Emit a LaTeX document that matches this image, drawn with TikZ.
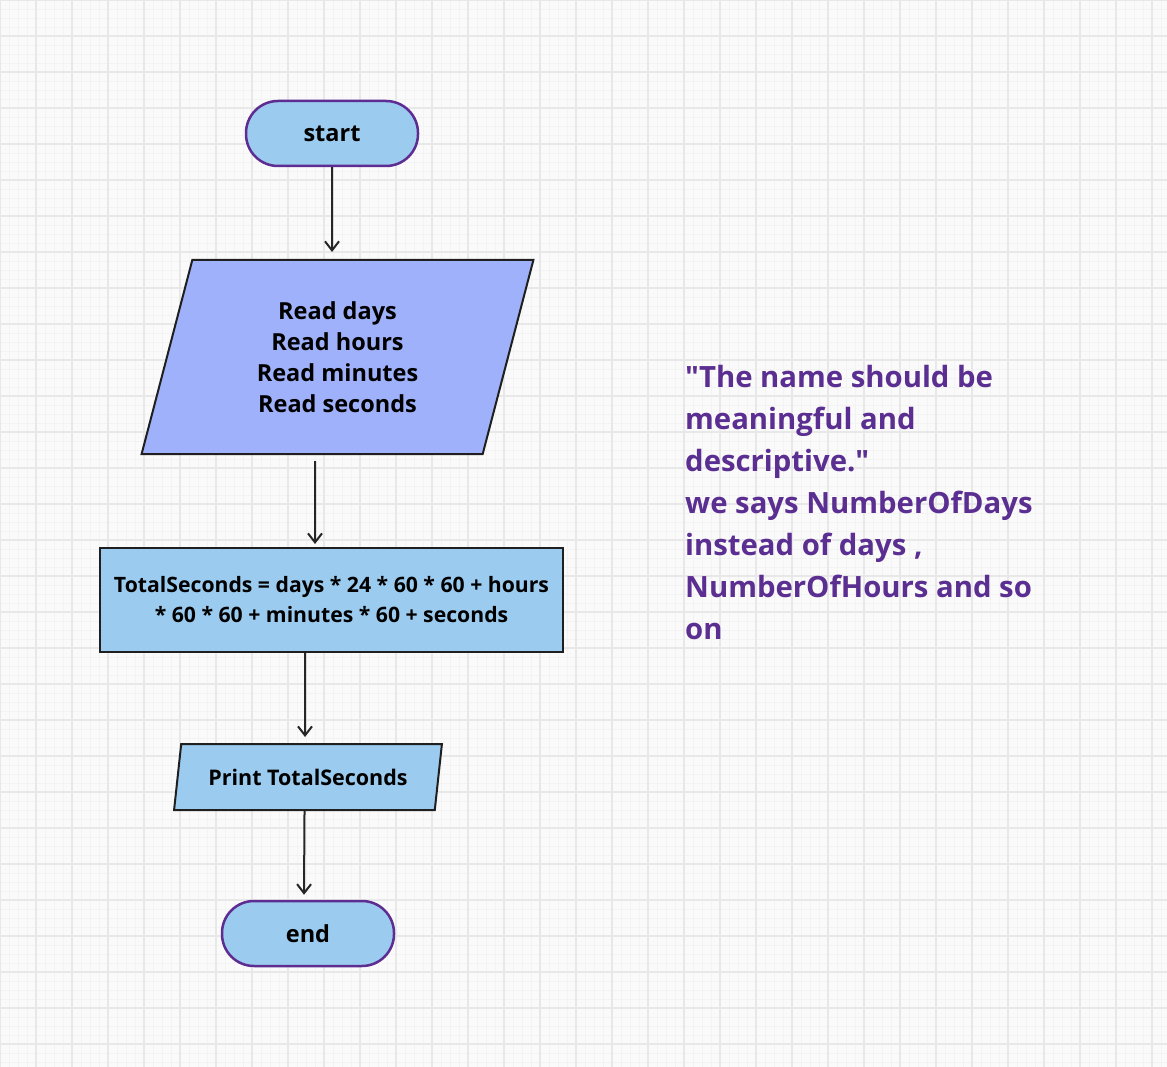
\documentclass[tikz,border=0pt]{standalone}
\usepackage{fontspec}
\setmainfont{Open Sans}
\usepackage{tikz}
\usetikzlibrary{shapes,arrows.meta,positioning,calc}

\definecolor{boxblue}{HTML}{9BCBEF}
\definecolor{inblue}{HTML}{9EB1FA}
\definecolor{edgepurple}{HTML}{5E2D91}
\definecolor{notepurple}{HTML}{5B2E91}
\definecolor{gridmajor}{HTML}{E8E8E8}
\definecolor{gridminor}{HTML}{F3F3F3}

\begin{document}
\begin{tikzpicture}[x=1pt, y=-1pt,
    terminal/.style={rectangle, draw=edgepurple, line width=2.5pt, fill=boxblue, rounded corners=32pt, minimum width=172pt, minimum height=65pt, font=\fontsize{23.5}{26}\selectfont\bfseries},
    io/.style={trapezium, trapezium left angle=76, trapezium right angle=104, trapezium stretches=true, draw=black!88, line width=2pt, align=center},
    process/.style={rectangle, draw=black!88, line width=2pt, fill=boxblue, align=center, minimum width=463pt, minimum height=104pt, font=\fontsize{21.2}{30}\selectfont\bfseries},
    flow/.style={line width=2pt, draw=black!85, -{Straight Barb[length=9pt, width=14pt, line width=2pt]}}]

    % Canvas and grid
    \useasboundingbox (0,0) rectangle (1167,1067);
    \fill[white!98!black] (0,0) rectangle (1167,1067);
    \draw[gridminor, line width=0.6pt, step=9pt] (0,0) grid (1167,1067);
    \draw[gridmajor, line width=1.6pt, step=36pt] (0,0) grid (1167,1067);

    % Flowchart
    \node[terminal] (start) at (332,133.5) {start};
    \node[io, fill=inblue, minimum width=393pt, minimum height=194pt, font=\fontsize{23.5}{31}\selectfont\bfseries] (read) at (337.5,357) {Read days\\Read hours\\Read minutes\\Read seconds};
    \node[process] (total) at (331.5,600) {TotalSeconds = days * 24 * 60 * 60 + hours\\* 60 * 60 + minutes * 60 + seconds};
    \node[io, fill=boxblue, minimum width=268pt, minimum height=66pt, font=\fontsize{21.5}{24}\selectfont\bfseries] (print) at (308,777) {Print TotalSeconds};
    \node[terminal] (stop) at (308,933.5) {end};

    % Connectors
    \draw[flow] (start.south) -- ([xshift=-5.5pt, yshift=7pt]read.north);
    \draw[flow] ([xshift=-22.5pt, yshift=-6pt]read.south) -- ([xshift=-16.5pt, yshift=3pt]total.north);
    \draw[flow] ([xshift=-26.5pt]total.south) -- ([xshift=-3pt, yshift=6pt]print.north);
    \draw[flow] ([xshift=-3.5pt]print.south) -- ([xshift=-4pt, yshift=5pt]stop.north);

    % Note
    \node[anchor=north west, inner sep=0pt, align=left, text=notepurple, font=\fontsize{29.3}{42}\selectfont\bfseries] (note) at (685,365) {\textquotedbl The name should be\\meaningful and\\descriptive.\textquotedbl\\we says NumberOfDays\\instead of days ,\\NumberOfHours and so\\on};

\end{tikzpicture}
\end{document}
